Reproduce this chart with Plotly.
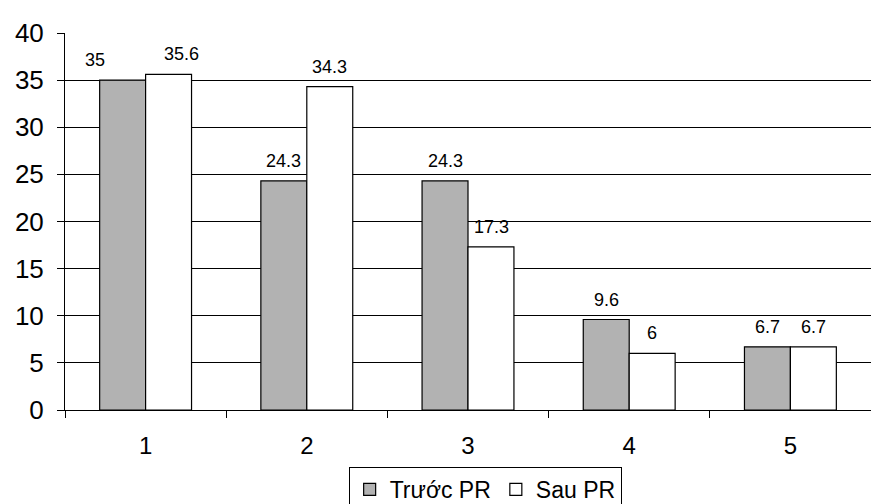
import plotly.graph_objects as go

categories = ["1", "2", "3", "4", "5"]
truoc = [35, 24.3, 24.3, 9.6, 6.7]
sau = [35.6, 34.3, 17.3, 6, 6.7]
series_names = ["Trước PR", "Sau PR"]

# extra horizontal nudges of the value labels (pixels), as in the reference
truoc_label_nudge = [-28, 0, 0, 0, 0]
sau_label_nudge = [13, 0, 0, 0, 0]

fig = go.Figure()
fig.add_trace(go.Bar(x=categories, y=truoc, name=series_names[0],
                     marker=dict(color="#b2b2b2", line=dict(color="black", width=1.2))))
fig.add_trace(go.Bar(x=categories, y=sau, name=series_names[1],
                     marker=dict(color="white", line=dict(color="black", width=1.2))))

for i, v in enumerate(truoc):
    fig.add_annotation(x=i, y=v, text=f"{v:g}", showarrow=False,
                       xshift=-23 + truoc_label_nudge[i], yshift=20,
                       font=dict(size=18, color="black"))
for i, v in enumerate(sau):
    fig.add_annotation(x=i, y=v, text=f"{v:g}", showarrow=False,
                       xshift=23 + sau_label_nudge[i], yshift=20,
                       font=dict(size=18, color="black"))

fig.update_layout(
    width=871, height=504,
    margin=dict(l=0, r=0, t=0, b=0, autoexpand=False),
    paper_bgcolor="white", plot_bgcolor="white",
    font=dict(family="Liberation Sans, Arial, sans-serif", color="black"),
    barmode="group", bargap=0.43, bargroupgap=0,
    showlegend=True,
    legend=dict(orientation="h", x=0.557, xanchor="center", y=(504 - 467) / 504, yanchor="top",
                bordercolor="black", borderwidth=1, font=dict(size=23),
                itemwidth=30, tracegroupgap=0),
    xaxis=dict(type="category", domain=[65 / 871, 1], range=[-0.5, 4.5],
               showline=True, linecolor="black", linewidth=1,
               ticks="outside", tickson="boundaries", ticklen=7, tickcolor="black",
               tickfont=dict(size=24), ticklabelstandoff=14,
               showgrid=False, automargin=False),
    yaxis=dict(range=[0, 40], dtick=5, domain=[(504 - 410) / 504, (504 - 33) / 504],
               showline=True, linecolor="black", linewidth=1,
               ticks="outside", ticklen=7, tickcolor="black", tickfont=dict(size=26),
               ticklabelstandoff=8,
               showgrid=True, gridcolor="black", gridwidth=1, zeroline=False, automargin=False),
)

fig.write_html("out.html", config={"displayModeBar": False},
               post_script="document.body.style.margin='0';")
